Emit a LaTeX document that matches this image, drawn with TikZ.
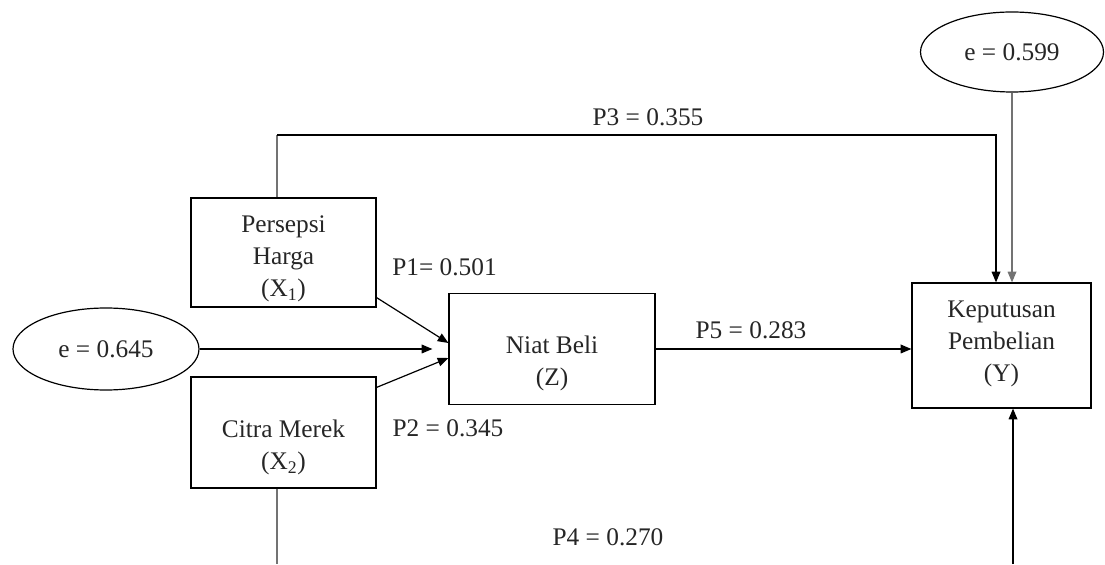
\documentclass[tikz,border=0pt]{standalone}
\usepackage{fontspec}
\setmainfont{Liberation Serif}
\usetikzlibrary{
  shapes.geometric,
  arrows.meta
}
\tikzset{
  box/.style={draw, inner sep=0pt},
  boxtext/.style={align=center, inner sep=0pt},
  errnode/.style={draw, ellipse, inner sep=0pt},
  coef/.style={inner sep=0pt},
  greyline/.style={draw=black!55}
}

\begin{document}
\begin{tikzpicture}[x=0.75pt, y=0.75pt, >={Triangle[length=8pt,width=6.5pt]},
  line width=0.9pt, font=\fontsize{19}{24}\selectfont, text=black!85]
\useasboundingbox (0,0) rectangle (1105,564);
\node[box, minimum width=138.75pt, minimum height=81.75pt,
  label={[boxtext, yshift=-5pt]center:Persepsi\\Harga\\(X\textsubscript{1})}] (harga) at (283.5,311.5) {};
\node[box, minimum width=138.75pt, minimum height=83.25pt,
  label={[boxtext, yshift=-11pt]center:Citra Merek\\(X\textsubscript{2})}] (citra) at (283.5,131.5) {};
\node[box, minimum width=154.5pt, minimum height=83.25pt,
  label={[boxtext, yshift=-11pt]center:Niat Beli\\(Z)}] (niat) at (552,215) {};
\node[box, minimum width=134.25pt, minimum height=93.75pt,
  label={[boxtext, yshift=1pt]center:Keputusan\\Pembelian\\(Y)}] (keputusan) at (1001.5,218.5) {};
\node[errnode, minimum width=139.5pt, minimum height=61.5pt] (e1) at (106,215) {e = 0.645};
\node[errnode, minimum width=137.25pt, minimum height=60pt] (e2) at (1012,512) {e = 0.599};

\coordinate (p3l) at (277,429);
\coordinate (p3r) at (996,429);
\coordinate (p4l) at (277,0);
\coordinate (p4r) at (1013,0);

\draw[greyline] (harga.north -| p3l) -- (p3l);
\draw[->] (p3l) -- (p3r) -- (p3r |- keputusan.north);
\draw[->, greyline] (e2.south) -- (e2.south |- keputusan.north);
\draw[->] ([yshift=7.5pt]harga.south east) -- ([yshift=4.5pt]niat.west);
\draw[->] ([yshift=-8.25pt]citra.north east) -- ([yshift=-6.75pt]niat.west);
\draw[->, shorten >=12pt] (e1) -- (niat);
\draw[->] (niat) -- (niat -| keputusan.west);
\draw[greyline] (citra.south -| p4l) -- (p4l);
\draw[->] (p4r) -- (p4r |- keputusan.south);

\node[coef] (p1) at (444.5,297) {P1= 0.501};
\node[coef] (p2) at (448,136) {P2 = 0.345};
\node[coef] (p3) at (648,447) {P3 = 0.355};
\node[coef] (p4) at (608,27) {P4 = 0.270};
\node[coef] (p5) at (751,234) {P5 = 0.283};
\end{tikzpicture}
\end{document}
